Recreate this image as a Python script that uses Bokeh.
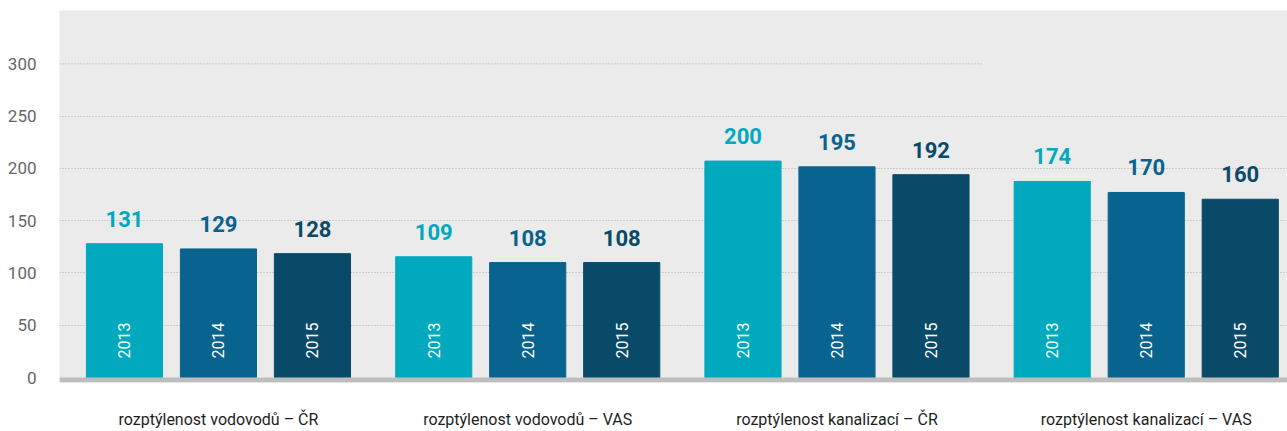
import math
from bokeh.plotting import figure
from bokeh.models import ColumnDataSource, FixedTicker, BoxAnnotation, Range1d
from bokeh.core.properties import value
from bokeh.embed import file_html
from bokeh.resources import INLINE

categories = ["rozptýlenost vodovodů – ČR", "rozptýlenost vodovodů – VAS",
              "rozptýlenost kanalizací – ČR", "rozptýlenost kanalizací – VAS"]
years = ["2013", "2014", "2015"]
# printed values
labels_2013 = [131, 109, 200, 174]
labels_2014 = [129, 108, 195, 170]
labels_2015 = [128, 108, 192, 160]
# bar heights as drawn against the axis
bars_2013 = [128, 115.5, 207, 187.5]
bars_2014 = [123, 110, 201.5, 177]
bars_2015 = [118.5, 110, 194, 170.5]
y_ticks = [0, 50, 100, 150, 200, 250, 300]

colors = ["#00a9be", "#08638f", "#0a4a69"]
GROUP_STEP = 3.29
BAR_W = 0.81

xs, tops, labs, cols, yrs = [], [], [], [], []
for gi in range(len(categories)):
    for yi, (bars, labels) in enumerate([(bars_2013, labels_2013), (bars_2014, labels_2014), (bars_2015, labels_2015)]):
        xs.append(gi * GROUP_STEP + yi)
        tops.append(bars[gi])
        labs.append(str(labels[gi]))
        cols.append(colors[yi])
        yrs.append(years[yi])
src = ColumnDataSource(dict(x=xs, top=tops, lab=labs, color=cols, year=yrs))

px_per_unit = 1.0567
y0 = -5 / px_per_unit
y1 = 351
x0 = -0.691
x1 = x0 + 1228 / 94

p = figure(width=1287, height=431, output_backend="svg", toolbar_location=None,
           x_range=Range1d(x0, x1), y_range=Range1d(y0, y1),
           min_border_left=59, min_border_right=0, min_border_top=10, min_border_bottom=45)
p.outline_line_color = None
p.background_fill_color = "#ebebeb"
p.border_fill_color = "white"

# gridlines
p.xgrid.visible = False
p.ygrid.ticker = FixedTicker(ticks=[t for t in y_ticks if 0 < t < 300])
p.ygrid.grid_line_color = "#ababab"
p.ygrid.grid_line_dash = "1 2"
p.ygrid.grid_line_width = 1
p.segment(x0=[x0], y0=[300], x1=[9.13], y1=[300], line_color="#ababab", line_dash="1 2", line_width=1)

p.vbar(x="x", top="top", width=BAR_W, bottom=0, color="color", source=src)

p.add_layout(BoxAnnotation(top=0, fill_color="#bdbdbd", fill_alpha=1, line_color=None))

p.text(x="x", y="top", text="lab", text_color="color", text_align="center", text_baseline="alphabetic",
       y_offset=-25, text_font=value("Roboto"), text_font_style="bold", text_font_size="22px", source=src)
p.text(x="x", y=0, text="year", text_color="white", angle=math.pi / 2, text_align="left",
       text_baseline="middle", y_offset=-19, text_font=value("Roboto"), text_font_size="16px", source=src)

p.yaxis.ticker = FixedTicker(ticks=y_ticks)
p.yaxis.axis_line_color = None
p.yaxis.major_tick_line_color = None
p.yaxis.major_tick_out = 0
p.yaxis.major_tick_in = 0
p.yaxis.minor_tick_line_color = None
p.yaxis.major_label_text_font = "Roboto"
p.yaxis.major_label_text_font_size = "17px"
p.yaxis.major_label_text_color = "#666666"
p.yaxis.major_label_standoff = 23

centers = [gi * GROUP_STEP + 1 for gi in range(len(categories))]
p.xaxis.ticker = FixedTicker(ticks=centers)
p.xaxis.major_label_overrides = {c: name for c, name in zip(centers, categories)}
p.xaxis.axis_line_color = None
p.xaxis.major_tick_line_color = None
p.xaxis.major_tick_out = 0
p.xaxis.major_tick_in = 0
p.xaxis.minor_tick_line_color = None
p.xaxis.major_label_text_font = "Roboto"
p.xaxis.major_label_text_font_size = "16px"
p.xaxis.major_label_text_color = "#1e1e1e"
p.xaxis.major_label_standoff = 27

open("out.html", "w").write(file_html(p, INLINE))
